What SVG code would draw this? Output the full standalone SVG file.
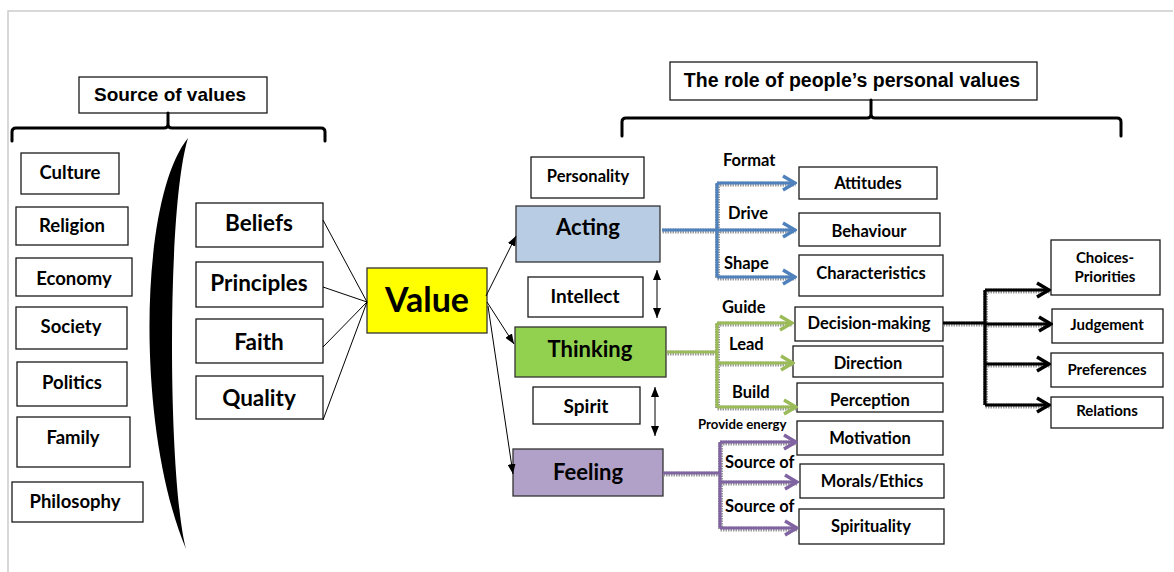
<svg xmlns="http://www.w3.org/2000/svg" width="1174" height="572" viewBox="0 0 1174 572">
  <style>
    .box { fill: #ffffff; stroke: #1a1a1a; stroke-width: 1.3; }
    .t { font-family: Lato, "Liberation Sans", sans-serif; font-weight: bold; fill: #000; text-anchor: middle; }
    .lbl { font-family: Lato, "Liberation Sans", sans-serif; font-weight: bold; fill: #000; }
    .hd { font-family: "Liberation Sans", Arial, sans-serif; font-weight: bold; fill: #000; text-anchor: middle; }
    .thin { stroke: #000; stroke-width: 1; fill: none; }
    .brace { stroke: #000; stroke-width: 3; fill: none; stroke-linejoin: round; stroke-linecap: round; }
    .halo { stroke: #9a9a9a; stroke-width: 5; fill: none; stroke-dasharray: 1.5 1; }
    .blue { stroke: #4f81bd; stroke-width: 3.2; fill: none; }
    .green { stroke: #9bbb59; stroke-width: 3.2; fill: none; }
    .purple { stroke: #8064a2; stroke-width: 3.2; fill: none; }
    .black { stroke: #000; stroke-width: 3.2; fill: none; }
  </style>
  <defs>
    <marker id="tri" viewBox="0 0 10 8" refX="10" refY="4" markerWidth="10" markerHeight="8" markerUnits="userSpaceOnUse" orient="auto-start-reverse">
      <path d="M0,0 L10,4 L0,8 Z" fill="#000"/>
    </marker>
    <marker id="chevBlue" viewBox="0 0 16 18" refX="14" refY="9" markerWidth="16" markerHeight="18" markerUnits="userSpaceOnUse" orient="auto">
      <path d="M2,2 L14,9 L2,16" fill="none" stroke="#4f81bd" stroke-width="3.5"/>
    </marker>
    <marker id="chevGreen" viewBox="0 0 16 18" refX="14" refY="9" markerWidth="16" markerHeight="18" markerUnits="userSpaceOnUse" orient="auto">
      <path d="M2,2 L14,9 L2,16" fill="none" stroke="#9bbb59" stroke-width="3.5"/>
    </marker>
    <marker id="chevPurple" viewBox="0 0 16 18" refX="14" refY="9" markerWidth="16" markerHeight="18" markerUnits="userSpaceOnUse" orient="auto">
      <path d="M2,2 L14,9 L2,16" fill="none" stroke="#8064a2" stroke-width="3.5"/>
    </marker>
    <marker id="chevBlack" viewBox="0 0 16 18" refX="14" refY="9" markerWidth="16" markerHeight="18" markerUnits="userSpaceOnUse" orient="auto">
      <path d="M2,2 L14,9 L2,16" fill="none" stroke="#000" stroke-width="3.5"/>
    </marker>
  </defs>

  <!-- frame -->
  <path d="M8,572 V11 H1173" fill="none" stroke="#cccccc" stroke-width="1.5"/>

  <!-- header: sources -->
  <g id="source-header">
    <rect class="box" x="79" y="77" width="188" height="36"/>
    <text class="hd" x="170" y="101" font-size="19">Source of values</text>
    <path class="brace" d="M12,141 V132 Q12,128 16,128 H164 Q168,128 168,124 V113 M168,124 Q168,128 172,128 H321 Q325,128 325,132 V141"/>
  </g>

  <!-- header: roles -->
  <g id="role-header">
    <rect class="box" x="670" y="62" width="367" height="38"/>
    <text class="hd" x="852" y="87" font-size="19.5">The role of people’s personal values</text>
    <path class="brace" d="M622,136 V122 Q622,118 626,118 H867 Q871,118 871,114 V100 M871,114 Q871,118 875,118 H1117 Q1121,118 1121,122 V136"/>
  </g>

  <!-- divider -->
  <path id="divider" d="M188,138 C138,200 136,430 186,549 C168,480 166,210 188,138 Z" fill="#000"/>

  <!-- sources -->
  <g id="culture"><rect class="box" x="21" y="153" width="98" height="41"/><text class="t" x="70" y="179" font-size="18.5">Culture</text></g>
  <g id="religion"><rect class="box" x="16" y="207" width="112" height="38"/><text class="t" x="72" y="232" font-size="18.5">Religion</text></g>
  <g id="economy"><rect class="box" x="16" y="258" width="116" height="38"/><text class="t" x="74" y="285" font-size="18.5">Economy</text></g>
  <g id="society"><rect class="box" x="16" y="307" width="111" height="42"/><text class="t" x="71" y="333" font-size="18.5">Society</text></g>
  <g id="politics"><rect class="box" x="17" y="362" width="110" height="44"/><text class="t" x="72" y="389" font-size="18.5">Politics</text></g>
  <g id="family"><rect class="box" x="17" y="417" width="113" height="50"/><text class="t" x="73" y="444" font-size="18.5">Family</text></g>
  <g id="philosophy"><rect class="box" x="12" y="482" width="131" height="40"/><text class="t" x="75" y="508" font-size="18.5">Philosophy</text></g>

  <g id="beliefs"><rect class="box" x="196" y="203" width="127" height="44"/><text class="t" x="259" y="231" font-size="22.5">Beliefs</text></g>
  <g id="principles"><rect class="box" x="196" y="262" width="127" height="45"/><text class="t" x="259" y="291" font-size="22.5">Principles</text></g>
  <g id="faith"><rect class="box" x="196" y="319" width="127" height="44"/><text class="t" x="259" y="350" font-size="22.5">Faith</text></g>
  <g id="quality"><rect class="box" x="196" y="376" width="127" height="43"/><text class="t" x="259" y="406" font-size="22.5">Quality</text></g>

  <!-- centre -->
  <g id="value"><rect x="367" y="268" width="120" height="65" fill="#ffff00" stroke="#333" stroke-width="1.3"/><text class="t" x="427" y="312" font-size="34">Value</text></g>

  <!-- modes -->
  <g id="personality"><rect class="box" x="531" y="157" width="113" height="41"/><text class="t" x="588" y="182" font-size="16.5">Personality</text></g>
  <g id="acting"><rect x="516" y="206" width="144" height="56" fill="#b8cce4" stroke="#333" stroke-width="1.3"/><text class="t" x="588" y="235" font-size="22">Acting</text></g>
  <g id="intellect"><rect class="box" x="528" y="277" width="115" height="40"/><text class="t" x="585" y="303" font-size="19">Intellect</text></g>
  <g id="thinking"><rect x="515" y="327" width="151" height="50" fill="#92d050" stroke="#333" stroke-width="1.3"/><text class="t" x="590" y="357" font-size="22">Thinking</text></g>
  <g id="spirit"><rect class="box" x="533" y="387" width="107" height="37"/><text class="t" x="586" y="413" font-size="19">Spirit</text></g>
  <g id="feeling"><rect x="513" y="449" width="150" height="47" fill="#b1a0c7" stroke="#333" stroke-width="1.3"/><text class="t" x="588" y="480" font-size="22">Feeling</text></g>

  <!-- outcomes -->
  <g id="attitudes"><rect class="box" x="799" y="167" width="138" height="32"/><text class="t" x="868" y="189" font-size="16.5">Attitudes</text></g>
  <g id="behaviour"><rect class="box" x="799" y="213" width="141" height="33"/><text class="t" x="869" y="237" font-size="16.5">Behaviour</text></g>
  <g id="characteristics"><rect class="box" x="799" y="255" width="144" height="41"/><text class="t" x="871" y="279" font-size="16.5">Characteristics</text></g>
  <g id="decision-making"><rect class="box" x="795" y="307" width="148" height="34"/><text class="t" x="869" y="329" font-size="16.5">Decision-making</text></g>
  <g id="direction"><rect class="box" x="793" y="346" width="150" height="31"/><text class="t" x="868" y="369" font-size="16.5">Direction</text></g>
  <g id="perception"><rect class="box" x="797" y="383" width="146" height="29"/><text class="t" x="870" y="406" font-size="16.5">Perception</text></g>
  <g id="motivation"><rect class="box" x="797" y="421" width="146" height="34"/><text class="t" x="870" y="444" font-size="16.5">Motivation</text></g>
  <g id="morals-ethics"><rect class="box" x="800" y="464" width="144" height="34"/><text class="t" x="872" y="487" font-size="16.5">Morals/Ethics</text></g>
  <g id="spirituality"><rect class="box" x="799" y="509" width="145" height="35"/><text class="t" x="871" y="532" font-size="16.5">Spirituality</text></g>

  <g id="choices-priorities"><rect class="box" x="1051" y="240" width="109" height="55"/><text class="t" x="1105" y="263" font-size="15">Choices-</text><text class="t" x="1105" y="282" font-size="15">Priorities</text></g>
  <g id="judgement"><rect class="box" x="1052" y="309" width="111" height="34"/><text class="t" x="1107" y="330" font-size="15">Judgement</text></g>
  <g id="preferences"><rect class="box" x="1051" y="353" width="112" height="34"/><text class="t" x="1107" y="375" font-size="15">Preferences</text></g>
  <g id="relations"><rect class="box" x="1051" y="397" width="112" height="31"/><text class="t" x="1107" y="416" font-size="15">Relations</text></g>

  <!-- connectors -->
  <g id="connectors">
    <path class="thin" d="M323,220 L367,302 M323,287 L367,302 M323,347 L367,302 M323,420 L367,302"/>
    <path class="thin" d="M486,296 L516,236" marker-end="url(#tri)"/>
    <path class="thin" d="M487,302 L514,344" marker-end="url(#tri)"/>
    <path class="thin" d="M488,306 L513,474" marker-end="url(#tri)"/>
    <path class="thin" d="M657,270 V318" marker-start="url(#tri)" marker-end="url(#tri)"/>
    <path class="thin" d="M655,387 V436" marker-start="url(#tri)" marker-end="url(#tri)"/>

    <!-- grey speckle underlay -->
    <g transform="translate(0.5,1)">
      <path class="halo" d="M662,230 H716 M717,183 V277 M667,352 H716 M717,323 V407 M663,473 H719 M720,442 V528 M943,323 H984 M985,290 V405"/>
      <path class="halo" d="M717,183 H795 M717,230 H795 M717,277 H795 M717,323 H792 M717,363 H793 M717,407 H796 M720,442 H796 M720,482 H797 M720,528 H797 M985,290 H1049 M985,324 H1051 M985,364 H1049 M985,405 H1049"/>
    </g>

    <g class="blue">
      <path d="M662,230 H717 M717,183 V277"/>
      <path d="M717,183 H795" marker-end="url(#chevBlue)"/>
      <path d="M717,230 H795" marker-end="url(#chevBlue)"/>
      <path d="M717,277 H795" marker-end="url(#chevBlue)"/>
    </g>
    <g class="green">
      <path d="M667,352 H717 M717,323 V407"/>
      <path d="M717,323 H792" marker-end="url(#chevGreen)"/>
      <path d="M717,363 H793" marker-end="url(#chevGreen)"/>
      <path d="M717,407 H796" marker-end="url(#chevGreen)"/>
    </g>
    <g class="purple">
      <path d="M663,473 H720 M720,442 V528"/>
      <path d="M720,442 H796" marker-end="url(#chevPurple)"/>
      <path d="M720,482 H797" marker-end="url(#chevPurple)"/>
      <path d="M720,528 H797" marker-end="url(#chevPurple)"/>
    </g>
    <g class="black">
      <path d="M943,323 H985 M985,290 V405"/>
      <path d="M985,290 H1049" marker-end="url(#chevBlack)"/>
      <path d="M985,324 H1051" marker-end="url(#chevBlack)"/>
      <path d="M985,364 H1049" marker-end="url(#chevBlack)"/>
      <path d="M985,405 H1049" marker-end="url(#chevBlack)"/>
    </g>

    <!-- connector labels -->
    <text class="lbl" x="723" y="166" font-size="16.5">Format</text>
    <text class="lbl" x="728" y="219" font-size="16.5">Drive</text>
    <text class="lbl" x="724" y="269" font-size="16.5">Shape</text>
    <text class="lbl" x="722" y="313" font-size="16.5">Guide</text>
    <text class="lbl" x="729" y="350" font-size="16.5">Lead</text>
    <text class="lbl" x="732" y="398" font-size="16.5">Build</text>
    <text class="lbl" x="698" y="429" font-size="13.2">Provide energy</text>
    <text class="lbl" x="725" y="468" font-size="16.5">Source of</text>
    <text class="lbl" x="725" y="512" font-size="16.5">Source of</text>
  </g>
</svg>
